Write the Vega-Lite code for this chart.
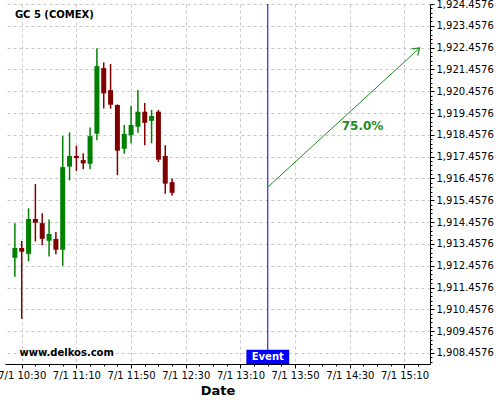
{
  "$schema": "https://vega.github.io/schema/vega-lite/v6.json",
  "width": 425,
  "height": 360,
  "autosize": {"type": "none"},
  "padding": {"left": 5, "top": 4, "right": 70, "bottom": 36},
  "background": "white",
  "config": {
    "view": {"stroke": null},
    "font": "DejaVu Sans",
    "axis": {
      "gridColor": "#c8c8c8",
      "gridDash": [3, 3],
      "gridWidth": 1,
      "domainColor": "black",
      "tickColor": "black",
      "labelColor": "black",
      "labelFont": "DejaVu Sans",
      "labelFontSize": 10,
      "labelOverlap": false
    }
  },
  "datasets": {
    "candles": [
      {"t": "2024-07-01T10:25:00", "open": 1912.82, "high": 1914.40, "low": 1911.95, "close": 1913.27},
      {"t": "2024-07-01T10:30:00", "open": 1913.27, "high": 1913.59, "low": 1910.02, "close": 1913.10},
      {"t": "2024-07-01T10:35:00", "open": 1913.00, "high": 1915.09, "low": 1912.66, "close": 1914.60},
      {"t": "2024-07-01T10:40:00", "open": 1914.60, "high": 1916.20, "low": 1913.57, "close": 1914.43},
      {"t": "2024-07-01T10:45:00", "open": 1914.41, "high": 1914.86, "low": 1913.39, "close": 1913.69},
      {"t": "2024-07-01T10:50:00", "open": 1913.60, "high": 1914.58, "low": 1912.88, "close": 1913.91},
      {"t": "2024-07-01T10:55:00", "open": 1913.68, "high": 1914.00, "low": 1912.98, "close": 1913.19},
      {"t": "2024-07-01T11:00:00", "open": 1913.19, "high": 1918.40, "low": 1912.46, "close": 1916.98},
      {"t": "2024-07-01T11:05:00", "open": 1917.00, "high": 1918.57, "low": 1916.37, "close": 1917.49},
      {"t": "2024-07-01T11:10:00", "open": 1917.49, "high": 1917.96, "low": 1916.80, "close": 1917.39},
      {"t": "2024-07-01T11:15:00", "open": 1917.30, "high": 1917.61, "low": 1916.88, "close": 1917.15},
      {"t": "2024-07-01T11:20:00", "open": 1917.13, "high": 1918.80, "low": 1916.88, "close": 1918.40},
      {"t": "2024-07-01T11:25:00", "open": 1918.51, "high": 1922.43, "low": 1918.21, "close": 1921.61},
      {"t": "2024-07-01T11:30:00", "open": 1921.52, "high": 1921.78, "low": 1919.67, "close": 1920.36},
      {"t": "2024-07-01T11:35:00", "open": 1920.51, "high": 1921.71, "low": 1919.66, "close": 1919.84},
      {"t": "2024-07-01T11:40:00", "open": 1919.83, "high": 1919.85, "low": 1916.61, "close": 1917.73},
      {"t": "2024-07-01T11:45:00", "open": 1917.82, "high": 1918.91, "low": 1917.59, "close": 1918.50},
      {"t": "2024-07-01T11:50:00", "open": 1918.44, "high": 1919.79, "low": 1918.07, "close": 1918.91},
      {"t": "2024-07-01T11:55:00", "open": 1918.83, "high": 1920.51, "low": 1918.55, "close": 1919.52},
      {"t": "2024-07-01T12:00:00", "open": 1919.52, "high": 1919.92, "low": 1917.98, "close": 1919.01},
      {"t": "2024-07-01T12:05:00", "open": 1919.10, "high": 1919.60, "low": 1918.07, "close": 1919.32},
      {"t": "2024-07-01T12:10:00", "open": 1919.52, "high": 1919.60, "low": 1917.21, "close": 1917.32},
      {"t": "2024-07-01T12:15:00", "open": 1917.49, "high": 1917.98, "low": 1915.76, "close": 1916.22},
      {"t": "2024-07-01T12:20:00", "open": 1916.29, "high": 1916.46, "low": 1915.68, "close": 1915.80}
    ],
    "event": [{"t": "2024-07-01T13:30:00", "t0": "2024-07-01T13:14:20", "t1": "2024-07-01T13:45:40", "lo": 1907.95, "hi": 1908.60, "mid": 1908.27, "label": "Event"}],
    "arrow": [
      {"t": "2024-07-01T13:30:00", "price": 1916.06},
      {"t": "2024-07-01T15:21:00", "price": 1922.44}
    ],
    "tip": [{"t": "2024-07-01T15:21:00", "price": 1922.44}],
    "pct": [{"t": "2024-07-01T14:39:20", "price": 1918.86, "label": "75.0%"}],
    "notes": [
      {"t": "2024-07-01T10:25:00", "price": 1923.95, "label": "GC 5 (COMEX)"},
      {"t": "2024-07-01T10:28:20", "price": 1908.46, "label": "www.delkos.com"}
    ]
  },
  "layer": [
    {
      "data": {"name": "candles"},
      "mark": {"type": "rule", "strokeWidth": 1.5},
      "encoding": {
        "x": {
          "field": "t", "type": "temporal",
          "scale": {"domain": ["2024-07-01T10:21:26", "2024-07-01T15:25:00"]},
          "axis": {
            "title": "Date",
            "titleFont": "DejaVu Sans",
            "titleFontSize": 13,
            "titleFontWeight": "bold",
            "titleColor": "black",
            "titlePadding": 4,
            "format": "%-m/%-d %H:%M",
            "tickCount": 500,
            "values": [
              {"year": 2024, "month": 7, "date": 1, "hours": 10, "minutes": 30},
              {"year": 2024, "month": 7, "date": 1, "hours": 10, "minutes": 40},
              {"year": 2024, "month": 7, "date": 1, "hours": 10, "minutes": 50},
              {"year": 2024, "month": 7, "date": 1, "hours": 11, "minutes": 0},
              {"year": 2024, "month": 7, "date": 1, "hours": 11, "minutes": 10},
              {"year": 2024, "month": 7, "date": 1, "hours": 11, "minutes": 20},
              {"year": 2024, "month": 7, "date": 1, "hours": 11, "minutes": 30},
              {"year": 2024, "month": 7, "date": 1, "hours": 11, "minutes": 40},
              {"year": 2024, "month": 7, "date": 1, "hours": 11, "minutes": 50},
              {"year": 2024, "month": 7, "date": 1, "hours": 12, "minutes": 0},
              {"year": 2024, "month": 7, "date": 1, "hours": 12, "minutes": 10},
              {"year": 2024, "month": 7, "date": 1, "hours": 12, "minutes": 20},
              {"year": 2024, "month": 7, "date": 1, "hours": 12, "minutes": 30},
              {"year": 2024, "month": 7, "date": 1, "hours": 12, "minutes": 40},
              {"year": 2024, "month": 7, "date": 1, "hours": 12, "minutes": 50},
              {"year": 2024, "month": 7, "date": 1, "hours": 13, "minutes": 0},
              {"year": 2024, "month": 7, "date": 1, "hours": 13, "minutes": 10},
              {"year": 2024, "month": 7, "date": 1, "hours": 13, "minutes": 20},
              {"year": 2024, "month": 7, "date": 1, "hours": 13, "minutes": 30},
              {"year": 2024, "month": 7, "date": 1, "hours": 13, "minutes": 40},
              {"year": 2024, "month": 7, "date": 1, "hours": 13, "minutes": 50},
              {"year": 2024, "month": 7, "date": 1, "hours": 14, "minutes": 0},
              {"year": 2024, "month": 7, "date": 1, "hours": 14, "minutes": 10},
              {"year": 2024, "month": 7, "date": 1, "hours": 14, "minutes": 20},
              {"year": 2024, "month": 7, "date": 1, "hours": 14, "minutes": 30},
              {"year": 2024, "month": 7, "date": 1, "hours": 14, "minutes": 40},
              {"year": 2024, "month": 7, "date": 1, "hours": 14, "minutes": 50},
              {"year": 2024, "month": 7, "date": 1, "hours": 15, "minutes": 0},
              {"year": 2024, "month": 7, "date": 1, "hours": 15, "minutes": 10},
              {"year": 2024, "month": 7, "date": 1, "hours": 15, "minutes": 20}
            ],
            "labelExpr": "((hours(datum.value)*60 + minutes(datum.value) - 630) % 40 == 0) ? datum.label : ''",
            "tickSize": {"condition": {"test": "(hours(datum.value)*60 + minutes(datum.value) - 630) % 40 == 0", "value": 4}, "value": 2},
            "gridOpacity": {"condition": {"test": "(hours(datum.value)*60 + minutes(datum.value) - 630) % 40 == 0", "value": 1}, "value": 0},
            "labelPadding": 2,
            "grid": true
          }
        },
        "y": {
          "field": "low", "type": "quantitative",
          "scale": {"domain": [1907.95, 1924.4576], "nice": false, "zero": false},
          "axis": {
            "orient": "right",
            "title": null,
            "format": ",.4f",
            "tickCount": 500,
            "values": [1908.0576, 1908.2576, 1908.4576, 1908.6576, 1908.8576,
              1909.0576, 1909.2576, 1909.4576, 1909.6576, 1909.8576,
              1910.0576, 1910.2576, 1910.4576, 1910.6576, 1910.8576,
              1911.0576, 1911.2576, 1911.4576, 1911.6576, 1911.8576,
              1912.0576, 1912.2576, 1912.4576, 1912.6576, 1912.8576,
              1913.0576, 1913.2576, 1913.4576, 1913.6576, 1913.8576,
              1914.0576, 1914.2576, 1914.4576, 1914.6576, 1914.8576,
              1915.0576, 1915.2576, 1915.4576, 1915.6576, 1915.8576,
              1916.0576, 1916.2576, 1916.4576, 1916.6576, 1916.8576,
              1917.0576, 1917.2576, 1917.4576, 1917.6576, 1917.8576,
              1918.0576, 1918.2576, 1918.4576, 1918.6576, 1918.8576,
              1919.0576, 1919.2576, 1919.4576, 1919.6576, 1919.8576,
              1920.0576, 1920.2576, 1920.4576, 1920.6576, 1920.8576,
              1921.0576, 1921.2576, 1921.4576, 1921.6576, 1921.8576,
              1922.0576, 1922.2576, 1922.4576, 1922.6576, 1922.8576,
              1923.0576, 1923.2576, 1923.4576, 1923.6576, 1923.8576,
              1924.0576, 1924.2576, 1924.4576],
            "labelExpr": "abs((datum.value - 1908.4576) - round(datum.value - 1908.4576)) < 0.05 ? datum.label : ''",
            "tickSize": {"condition": {"test": "abs((datum.value - 1908.4576) - round(datum.value - 1908.4576)) < 0.05", "value": 4}, "value": 2},
            "gridOpacity": {"condition": {"test": "abs((datum.value - 1908.4576) - round(datum.value - 1908.4576)) < 0.05", "value": 1}, "value": 0},
            "labelPadding": 2,
            "labelOverlap": false,
            "labelBound": false,
            "grid": true
          }
        },
        "y2": {"field": "high"},
        "color": {
          "condition": {"test": "datum.close >= datum.open", "value": "#008000"},
          "value": "#800000"
        }
      }
    },
    {
      "data": {"name": "candles"},
      "mark": {"type": "bar", "size": 5},
      "encoding": {
        "x": {"field": "t", "type": "temporal"},
        "y": {"field": "open", "type": "quantitative"},
        "y2": {"field": "close"},
        "color": {
          "condition": {"test": "datum.close >= datum.open", "value": "#008000"},
          "value": "#800000"
        }
      }
    },
    {
      "data": {"name": "event"},
      "mark": {"type": "rule", "color": "#0000cc", "strokeWidth": 1},
      "encoding": {"x": {"field": "t", "type": "temporal"}}
    },
    {
      "data": {"name": "event"},
      "mark": {"type": "rect", "color": "#0000ff"},
      "encoding": {
        "x": {"field": "t0", "type": "temporal"},
        "x2": {"field": "t1"},
        "y": {"field": "lo", "type": "quantitative"},
        "y2": {"field": "hi"}
      }
    },
    {
      "data": {"name": "event"},
      "mark": {"type": "text", "color": "white", "fontWeight": "bold", "fontSize": 10, "font": "DejaVu Sans", "align": "center", "baseline": "middle"},
      "encoding": {
        "x": {"field": "t", "type": "temporal"},
        "y": {"field": "mid", "type": "quantitative"},
        "text": {"field": "label"}
      }
    },
    {
      "data": {"name": "arrow"},
      "mark": {"type": "line", "color": "#228b22", "strokeWidth": 1},
      "encoding": {
        "x": {"field": "t", "type": "temporal"},
        "y": {"field": "price", "type": "quantitative"}
      }
    },
    {
      "data": {"name": "tip"},
      "mark": {"type": "point", "shape": "M-0.7,1L0,0L0.7,1", "filled": false, "color": "#228b22", "strokeWidth": 1.2, "size": 160, "angle": 48, "opacity": 1},
      "encoding": {
        "x": {"field": "t", "type": "temporal"},
        "y": {"field": "price", "type": "quantitative"}
      }
    },
    {
      "data": {"name": "pct"},
      "mark": {"type": "text", "color": "#228b22", "fontWeight": "bold", "fontSize": 12, "font": "DejaVu Sans", "align": "center", "baseline": "middle"},
      "encoding": {
        "x": {"field": "t", "type": "temporal"},
        "y": {"field": "price", "type": "quantitative"},
        "text": {"field": "label"}
      }
    },
    {
      "data": {"name": "notes"},
      "mark": {"type": "text", "color": "black", "fontWeight": "bold", "fontSize": 10, "font": "DejaVu Sans", "align": "left", "baseline": "middle"},
      "encoding": {
        "x": {"field": "t", "type": "temporal"},
        "y": {"field": "price", "type": "quantitative"},
        "text": {"field": "label"}
      }
    }
  ]
}
